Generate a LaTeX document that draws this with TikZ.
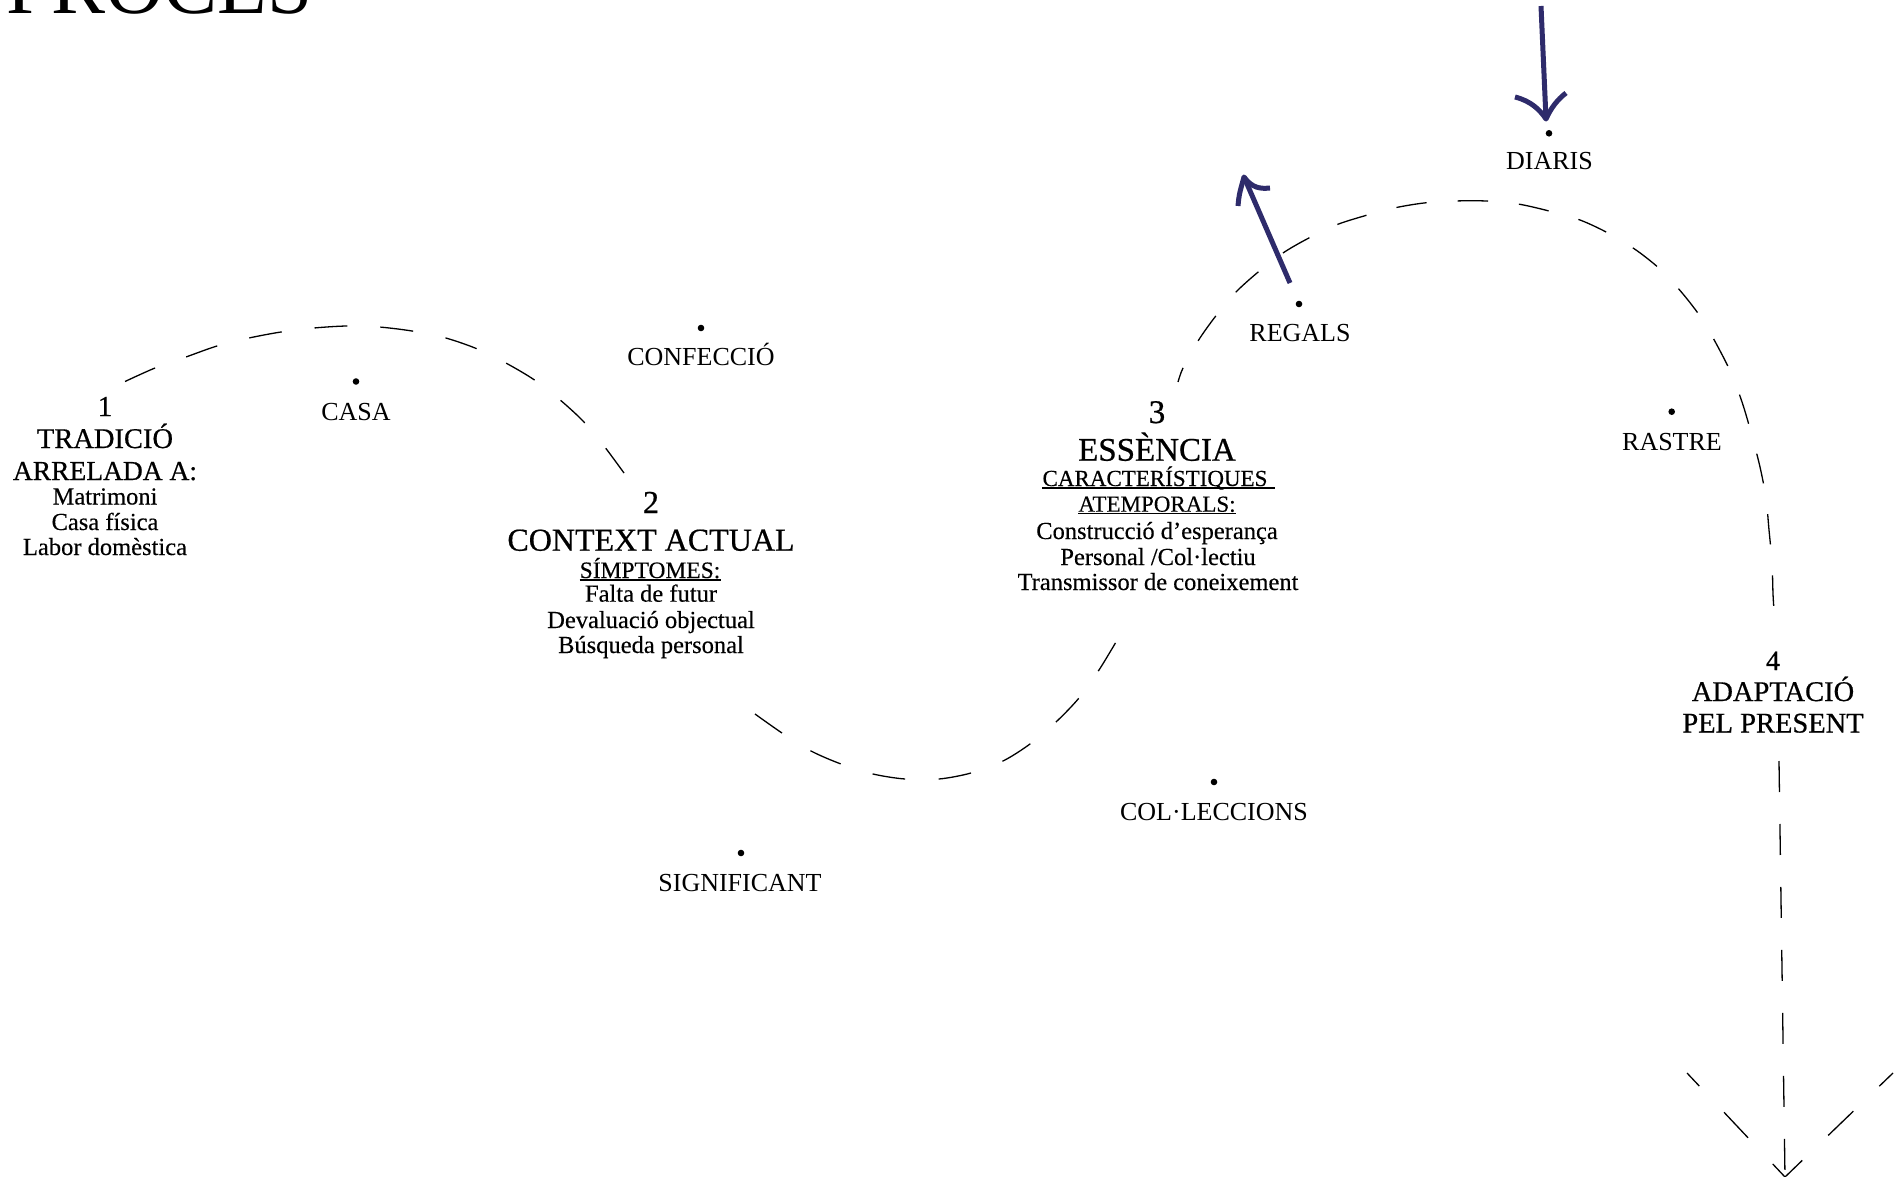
\documentclass[tikz,border=0pt]{standalone}
\usepackage{fontspec}
\setmainfont{Liberation Serif}
\newfontfamily\headfont[FakeBold=0.6]{Liberation Serif}
\newfontfamily\bodyfont[FakeBold=0.3]{Liberation Serif}
\definecolor{navy}{RGB}{46,43,107}
\tikzset{
  txt/.style={inner sep=0pt, anchor=base},
  lbl/.style={txt, font=\fontsize{26}{28}\selectfont},
  smalltxt/.style={txt, font=\bodyfont\fontsize{24.5}{26}\selectfont},
  headtxt/.style={txt, font=\headfont\fontsize{28.5}{30}\selectfont},
  subtxt/.style={txt, font=\bodyfont\fontsize{23}{24}\selectfont},
  dotmark/.style={circle, fill=black, inner sep=0pt, minimum size=6.6pt},
  dashline/.style={line width=1.3pt, dash pattern=on 33pt off 33pt},
  bluearrow/.style={draw=navy, line width=5pt, line join=round},
  uline/.style={line width=1.1pt},
}
\begin{document}
\begin{tikzpicture}[x=1pt,y=-1pt]
\useasboundingbox[fill=white] (0,0) rectangle (1899,1177);

% title (cut off at top, as in the reference)
\node[txt, anchor=base west, font=\fontsize{81}{85}\selectfont] (title) at (6,14) {PROCÉS};

% ---------- block 1
\node[txt, font=\headfont\fontsize{29}{30}\selectfont] (n1num) at (105,416) {1};
\node[headtxt] (n1a) at (105,448) {TRADICIÓ};
\node[headtxt, font=\headfont\fontsize{27.5}{30}\selectfont] (n1b) at (105,480) {ARRELADA A:};
\node[smalltxt] (n1c) at (105,504.5) {Matrimoni};
\node[smalltxt] (n1d) at (105,530) {Casa física};
\node[smalltxt] (n1e) at (105,555) {Labor domèstica};

% ---------- block 2
\node[txt, font=\headfont\fontsize{32}{34}\selectfont] (n2num) at (651,513) {2};
\node[txt, font=\headfont\fontsize{32}{34}\selectfont] (n2a) at (651,550.7) {CONTEXT ACTUAL};
\node[subtxt, font=\bodyfont\fontsize{23.5}{24}\selectfont] (n2b) at (650,578) {SÍMPTOMES:};
\draw[uline] ([yshift=-2pt]n2b.base west) -- ([yshift=-2pt]n2b.base east);
\node[smalltxt] (n2c) at (651,601.7) {Falta de futur};
\node[smalltxt] (n2d) at (651,628) {Devaluació objectual};
\node[smalltxt] (n2e) at (651,653) {Búsqueda personal};

% ---------- block 3
\node[txt, font=\headfont\fontsize{33}{34}\selectfont] (n3num) at (1157,423) {3};
\node[txt, font=\headfont\fontsize{33}{34}\selectfont] (n3a) at (1157,460.7) {ESSÈNCIA};
\node[subtxt] (n3b) at (1155,486) {CARACTERÍSTIQUES};
\draw[uline] ([yshift=-2pt]n3b.base west) -- ([xshift=7pt,yshift=-2pt]n3b.base east);
\node[subtxt] (n3c) at (1157,511.7) {ATEMPORALS:};
\draw[uline] ([yshift=-2pt]n3c.base west) -- ([yshift=-2pt]n3c.base east);
\node[smalltxt] (n3d) at (1157,539) {Construcció d’esperança};
\node[smalltxt] (n3e) at (1158,565) {Personal /Col·lectiu};
\node[smalltxt] (n3f) at (1158,590) {Transmissor de coneixement};

% ---------- block 4
\node[txt, font=\headfont\fontsize{28}{30}\selectfont] (n4num) at (1773,670) {4};
\node[headtxt] (n4a) at (1773,701) {ADAPTACIÓ};
\node[headtxt] (n4b) at (1773,732.5) {PEL PRESENT};

% ---------- labelled dots
\node[dotmark] (dcasa) at (356,381.5) {};
\node[lbl] (casa) at (356,420) {CASA};
\node[dotmark] (dconf) at (701,328) {};
\node[lbl] (conf) at (701,365) {CONFECCIÓ};
\node[dotmark] (dsig) at (741,853) {};
\node[lbl] (sig) at (740,891) {SIGNIFICANT};
\node[dotmark] (dcol) at (1214,782) {};
\node[lbl] (col) at (1214,820) {COL·LECCIONS};
\node[dotmark] (dreg) at (1299,304) {};
\node[lbl] (reg) at (1300,341.7) {REGALS};
\node[dotmark] (ddia) at (1549,133.3) {};
\node[lbl] (dia) at (1549.5,170) {DIARIS};
\node[dotmark] (dras) at (1671.7,411.7) {};
\node[lbl] (ras) at (1672,450) {RASTRE};

% ---------- dashed path
\draw[dashline] plot[smooth] coordinates {(125,381.5) (155,368) (186,357) (217,346) (249,338) (281,332) (314,328) (347,326) (379,327) (412,331) (444,337.5) (475,348) (504,362) (533,379) (559,399) (583,421) (604,446) (624,473)};
\draw[dashline, dash pattern=on 33pt off 33.5pt] plot[smooth] coordinates {(755,714) (782,733) (811,751) (841,764) (873,774) (905,779) (939,779) (971,773) (1003,761) (1030,744) (1056,722) (1079,698) (1099,670) (1116,642)};
\draw[dashline, dash pattern=on 30.5pt off 31pt, dash phase=15.5pt] plot[smooth] coordinates {(1178,382) (1183,368) (1198,341) (1215,317) (1235,293) (1257,273) (1283,253) (1307,239) (1336,225) (1364,216) (1394,208) (1424,203) (1455,201) (1486,201) (1518,204) (1549,211) (1580,220) (1608,233) (1636,250) (1661,270) (1683,294) (1702,319) (1718,347) (1732,375) (1743,405) (1752,436) (1760,467) (1766,498) (1769,530) (1772,562) (1773,594) (1774,610)};

% final dashed arrow
\coordinate (vtop) at (1779,761);
\coordinate (vtip) at (1785,1177);
\coordinate (bl) at (1687,1073);
\coordinate (br) at (1893,1073);
\draw[dashline, dash pattern=on 31pt off 32pt] (vtop) -- (vtip);
\draw[dashline, dash pattern=on 35pt off 36pt, dash phase=17pt] (bl) -- (vtip);
\draw[dashline, dash pattern=on 35pt off 36pt, dash phase=16pt] (br) -- (vtip);

% ---------- blue arrows
\coordinate (rA) at (1290,283);
\coordinate (rT) at (1244,177);
\draw[bluearrow] (rA) -- (rT);
\draw[bluearrow] (1238,206) .. controls (1239,195) .. (rT) .. controls (1252,188) and (1260,189) .. (1270,188);

\coordinate (dA) at (1541,6);
\coordinate (dT) at (1546,119);
\draw[bluearrow] (dA) -- (dT);
\draw[bluearrow] (1515,97) .. controls (1531,101) and (1540,110) .. (dT) .. controls (1551,108) and (1557,100) .. (1566,93);
\end{tikzpicture}
\end{document}
